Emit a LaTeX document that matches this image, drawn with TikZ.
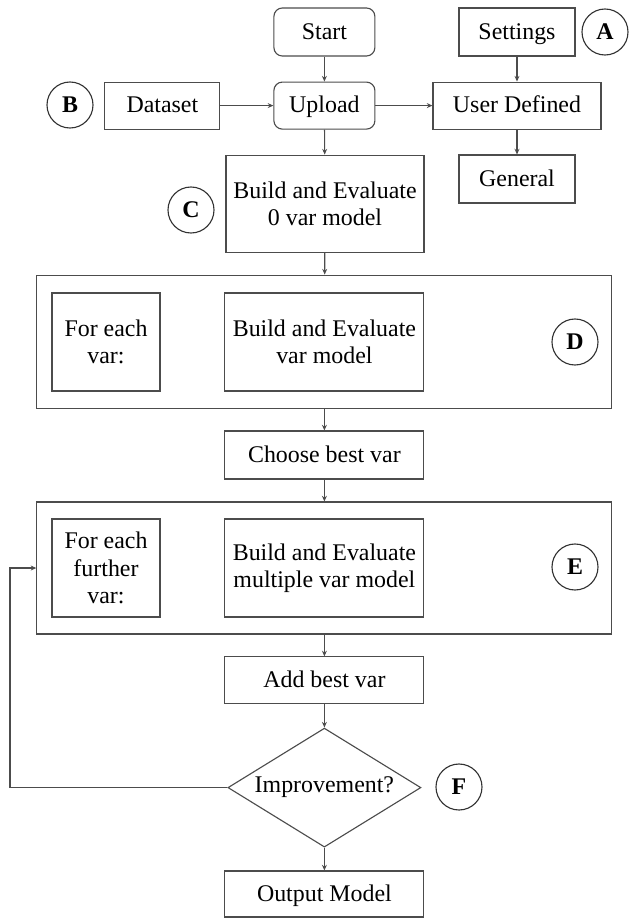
\documentclass[tikz,border=0pt]{standalone}
\usepackage{fontspec}
\setmainfont{Liberation Serif}
\usetikzlibrary{shapes.geometric,arrows.meta}

\newcommand{\flowfont}{\fontsize{17}{19.4}\selectfont}

\begin{document}
\begin{tikzpicture}[
  box/.style={draw=black!70, line width=0.8pt, minimum width=4.975cm,
    minimum height=1.2cm, inner sep=2pt, align=center, font=\flowfont},
  one/.style={box, text height=14pt, text depth=3.5pt},
  rbox/.style={one, rounded corners=6pt, minimum width=2.525cm},
  group/.style={draw=black!70, line width=0.8pt, minimum width=14.375cm,
    minimum height=3.3cm},
  tag/.style={draw=black!80, line width=0.8pt, circle, minimum size=1.15cm,
    inner sep=0pt, font=\flowfont\bfseries},
  decision/.style={draw=black!70, line width=0.8pt, diamond, shape aspect=1.6,
    inner sep=0pt, minimum width=4.825cm, minimum height=2.975cm, font=\flowfont},
  >={Stealth[length=4pt,width=3.5pt]},
  flow/.style={->, draw=black!70, line width=0.8pt}
]
\useasboundingbox (0,0) rectangle (15.7,-22.95);

% Top row: start, settings and data
\node[rbox, minimum height=1.2cm] (start) at (8.11,-0.80) {Start};
\node[one, minimum width=2.9cm] (settings) at (12.925,-0.80) {Settings};
\node[tag] (tagA) at (15.125,-0.80) {A};
\node[tag] (tagB) at (1.75,-2.625) {B};
\node[one, minimum width=2.875cm, minimum height=1.175cm] (dataset) at (4.06,-2.64) {Dataset};
\node[rbox, minimum height=1.175cm] (upload) at (8.11,-2.64) {Upload};
\node[one, minimum width=4.2cm, minimum height=1.175cm] (userdef) at (12.925,-2.64) {User Defined};
\node[one, minimum width=2.9cm] (general) at (12.925,-4.475) {General};

% Zero variable model
\node[box, minimum width=4.95cm, minimum height=2.425cm] (build0) at (8.125,-5.09)
  {Build and Evaluate\\0 var model};
\node[tag] (tagC) at (4.775,-5.25) {C};

% Single variable loop
\node[group, minimum height=3.325cm] (groupD) at (8.11,-8.54) {};
\node[box, minimum width=2.7cm, minimum height=2.45cm] (eachvar) at (2.65,-8.55)
  {For each\\var:};
\node[box, minimum height=2.45cm] (buildvar) at (8.11,-8.55)
  {Build and Evaluate\\var model};
\node[tag] (tagD) at (14.375,-8.55) {D};
\node[one] (choose) at (8.11,-11.375) {Choose best var};

% Further variables loop
\node[group] (groupE) at (8.11,-14.2) {};
\node[box, minimum width=2.7cm, minimum height=2.45cm] (eachfurther) at (2.65,-14.2)
  {For each\\further\\var:};
\node[box, minimum height=2.45cm] (buildmulti) at (8.11,-14.2)
  {Build and Evaluate\\multiple var model};
\node[tag] (tagE) at (14.375,-14.175) {E};
\node[one, minimum height=1.175cm] (addbest) at (8.11,-17.01) {Add best var};
\node[decision] (improve) at (8.11,-19.69) {Improvement?};
\node[tag] (tagF) at (11.475,-19.675) {F};
\node[one, minimum height=1.15cm] (output) at (8.11,-22.35) {Output Model};
\coordinate (loop) at (0.25,-19.69);

\draw[flow] (start) -- (upload);
\draw[flow] (settings) -- (userdef);
\draw[flow] (dataset) -- (upload);
\draw[flow] (upload) -- (userdef);
\draw[flow] (userdef) -- (general);
\draw[flow] (upload) -- (build0);
\draw[flow] (build0) -- (groupD);
\draw[flow] (groupD) -- (choose);
\draw[flow] (choose) -- (groupE);
\draw[flow] (groupE) -- (addbest);
\draw[flow] (addbest) -- (improve);
\draw[flow] (improve) -- (output);
\draw[flow] (improve.west) -- (loop) |- (groupE.west);

\end{tikzpicture}
\end{document}
